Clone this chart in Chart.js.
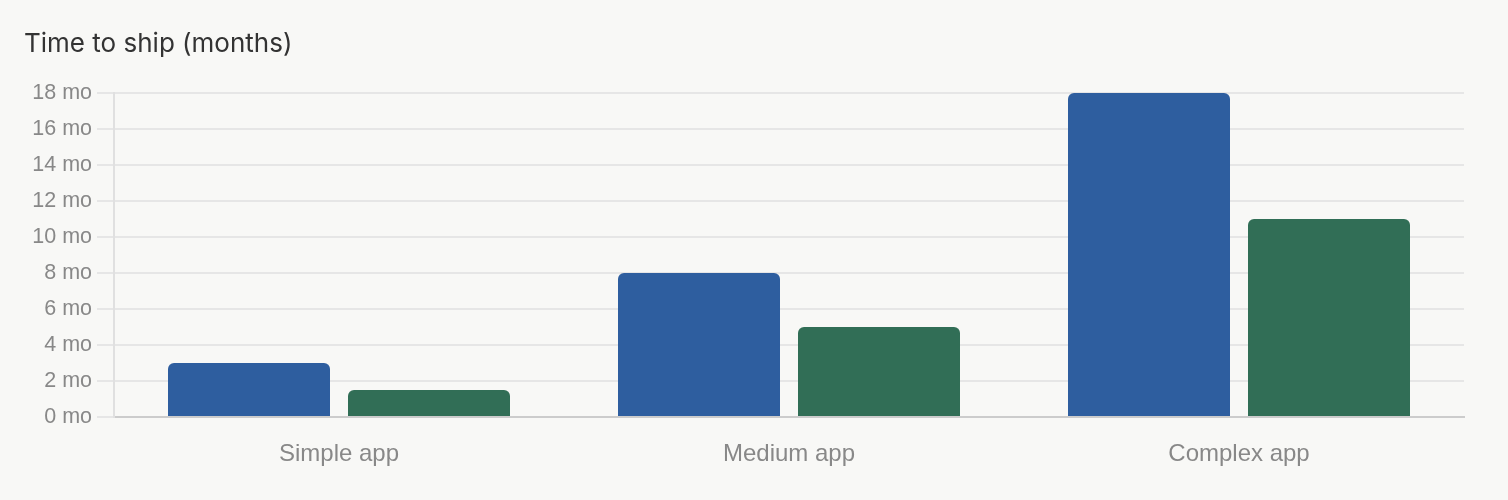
<!DOCTYPE html>
<html lang="en">
<head>
  <meta charset="UTF-8" />
  <title>Time to ship</title>
  <script src="https://cdn.jsdelivr.net/npm/chart.js"></script>
  <style>
    html, body {
      margin: 0;
      padding: 0;
      background: #f8f8f6;
    }
    .wrap {
      position: relative;
      width: 1508px;
      height: 500px;
    }
    .title {
      position: absolute;
      left: 24px;
      top: 30px;
      font-family: "Inter", sans-serif;
      font-size: 26px;
      line-height: 1;
      color: #333;
    }
    canvas {
      position: absolute;
      left: 0;
      top: 0;
    }
  </style>
</head>
<body>
  <div class="wrap">
    <canvas id="chart" width="1508" height="500"></canvas>
    <div class="title">Time to ship (months)</div>
  </div>
  <script>
    const categories = ['Simple app', 'Medium app', 'Complex app'];
    const seriesA = [3, 8, 18];
    const seriesB = [1.5, 5, 11];
    const yMin = 0;
    const yMax = 18;
    const yStep = 2;

    const tickFont = { family: '"Liberation Sans", Arial, sans-serif', size: 21.5 };
    const labelFont = { family: '"Liberation Sans", Arial, sans-serif', size: 24 };

    new Chart(document.getElementById('chart'), {
      type: 'bar',
      data: {
        labels: categories,
        datasets: [
          {
            label: 'A',
            data: seriesA,
            backgroundColor: '#2e5e9f',
            borderRadius: 6,
            borderSkipped: 'start'
          },
          {
            label: 'B',
            data: seriesB,
            backgroundColor: '#316e56',
            borderRadius: 6,
            borderSkipped: 'start'
          }
        ]
      },
      options: {
        responsive: false,
        animation: false,
        layout: {
          padding: { left: 30, right: 44, top: 93, bottom: 33 }
        },
        plugins: {
          legend: { display: false },
          tooltip: { enabled: false }
        },
        scales: {
          x: {
            grid: { display: false, drawTicks: false },
            border: { display: true, color: '#cccccc', width: 2 },
            ticks: { color: '#888', font: labelFont, padding: 23 },
            afterFit(scale) { scale.height = 50; }
          },
          y: {
            min: yMin,
            max: yMax,
            grid: { color: '#e6e6e6', lineWidth: 2, tickLength: 17 },
            border: { display: true, color: '#e0e0e0', width: 2 },
            ticks: {
              stepSize: yStep,
              color: '#888',
              font: tickFont,
              padding: 5,
              callback: v => v + ' mo'
            },
            afterFit(scale) { scale.width = 84; }
          }
        }
      }
    });
  </script>
</body>
</html>
